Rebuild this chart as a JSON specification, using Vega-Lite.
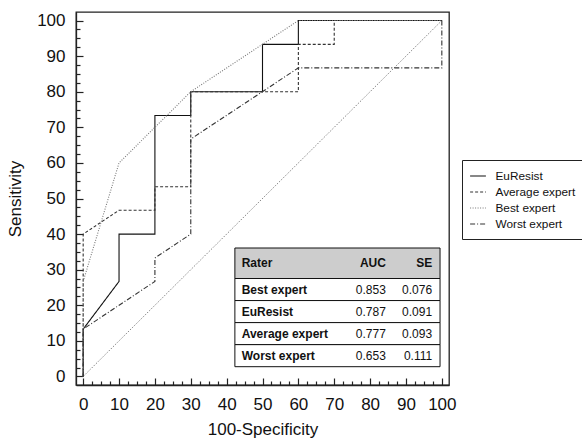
{
  "$schema": "https://vega.github.io/schema/vega-lite/v6.json",
  "width": 373,
  "height": 373,
  "autosize": {"type": "none"},
  "padding": {"left": 76, "top": 12, "right": 133, "bottom": 56},
  "background": "white",
  "config": {
    "font": "Liberation Sans",
    "view": {"stroke": "#222222", "strokeWidth": 1.3},
    "axis": {"grid": false, "domainColor": "#222222", "tickColor": "#222222", "labelColor": "#111111", "titleColor": "#111111", "domainWidth": 1.3, "tickWidth": 1.2, "labelFontWeight": "normal", "titleFontWeight": "normal", "labelOverlap": false, "labelFlush": false, "labelBound": false}
  },
  "datasets": {
    "diag": [{"x": 0, "y": 0}, {"x": 100, "y": 100}],
    "roc": [
      {"rater": "EuResist", "i": 1, "x": 0, "y": 0},
      {"rater": "EuResist", "i": 2, "x": 0, "y": 13.3},
      {"rater": "EuResist", "i": 3, "x": 10, "y": 26.7},
      {"rater": "EuResist", "i": 4, "x": 10, "y": 40},
      {"rater": "EuResist", "i": 5, "x": 20, "y": 40},
      {"rater": "EuResist", "i": 6, "x": 20, "y": 73.3},
      {"rater": "EuResist", "i": 7, "x": 30, "y": 73.3},
      {"rater": "EuResist", "i": 8, "x": 30, "y": 80},
      {"rater": "EuResist", "i": 9, "x": 50, "y": 80},
      {"rater": "EuResist", "i": 10, "x": 50, "y": 93.3},
      {"rater": "EuResist", "i": 11, "x": 60, "y": 93.3},
      {"rater": "EuResist", "i": 12, "x": 60, "y": 100},
      {"rater": "EuResist", "i": 13, "x": 100, "y": 100},
      {"rater": "Average expert", "i": 1, "x": 0, "y": 0},
      {"rater": "Average expert", "i": 2, "x": 0, "y": 40},
      {"rater": "Average expert", "i": 3, "x": 10, "y": 46.7},
      {"rater": "Average expert", "i": 4, "x": 20, "y": 46.7},
      {"rater": "Average expert", "i": 5, "x": 20, "y": 53.3},
      {"rater": "Average expert", "i": 6, "x": 30, "y": 53.3},
      {"rater": "Average expert", "i": 7, "x": 30, "y": 80},
      {"rater": "Average expert", "i": 8, "x": 60, "y": 80},
      {"rater": "Average expert", "i": 9, "x": 60, "y": 93.3},
      {"rater": "Average expert", "i": 10, "x": 70, "y": 93.3},
      {"rater": "Average expert", "i": 11, "x": 70, "y": 100},
      {"rater": "Average expert", "i": 12, "x": 100, "y": 100},
      {"rater": "Best expert", "i": 1, "x": 0, "y": 0},
      {"rater": "Best expert", "i": 2, "x": 0, "y": 26.7},
      {"rater": "Best expert", "i": 3, "x": 10, "y": 60},
      {"rater": "Best expert", "i": 4, "x": 30, "y": 80},
      {"rater": "Best expert", "i": 5, "x": 60, "y": 100},
      {"rater": "Best expert", "i": 6, "x": 100, "y": 100},
      {"rater": "Worst expert", "i": 1, "x": 0, "y": 0},
      {"rater": "Worst expert", "i": 2, "x": 0, "y": 13.3},
      {"rater": "Worst expert", "i": 3, "x": 20, "y": 26.7},
      {"rater": "Worst expert", "i": 4, "x": 20, "y": 33.3},
      {"rater": "Worst expert", "i": 5, "x": 30, "y": 40},
      {"rater": "Worst expert", "i": 6, "x": 30, "y": 66.7},
      {"rater": "Worst expert", "i": 7, "x": 60, "y": 86.7},
      {"rater": "Worst expert", "i": 8, "x": 100, "y": 86.7},
      {"rater": "Worst expert", "i": 9, "x": 100, "y": 100}
    ],
    "header": [{"Rater": "Rater", "AUC": "AUC", "SE": "SE"}],
    "table": [
      {"Rater": "Best expert", "AUC": "0.853", "SE": "0.076"},
      {"Rater": "EuResist", "AUC": "0.787", "SE": "0.091"},
      {"Rater": "Average expert", "AUC": "0.777", "SE": "0.093"},
      {"Rater": "Worst expert", "AUC": "0.653", "SE": "0.111"}
    ]
  },
  "layer": [
    {
      "encoding": {
        "x": {
          "field": "x", "type": "quantitative",
          "scale": {"domain": [-2, 102], "nice": false, "zero": false},
          "axis": {
            "orient": "bottom",
            "title": "100-Specificity",
            "values": [0, 2.5, 5, 7.5, 10, 12.5, 15, 17.5, 20, 22.5, 25, 27.5, 30, 32.5, 35, 37.5, 40, 42.5, 45, 47.5, 50, 52.5, 55, 57.5, 60, 62.5, 65, 67.5, 70, 72.5, 75, 77.5, 80, 82.5, 85, 87.5, 90, 92.5, 95, 97.5, 100],
            "labelExpr": "datum.value % 10 === 0 ? datum.label : ''",
            "tickSize": {"condition": {"test": "datum.value % 10 === 0", "value": -7}, "value": -4},
            "labelPadding": 18,
            "labelFontSize": 17,
            "titleFontSize": 17,
            "titlePadding": 6,
            "labelFlush": false,
            "labelOverlap": false,
            "labelBound": false
          }
        },
        "y": {
          "field": "y", "type": "quantitative",
          "scale": {"domain": [-2.4, 102.4], "nice": false, "zero": false},
          "axis": {
            "orient": "left",
            "title": "Sensitivity",
            "values": [0, 2.5, 5, 7.5, 10, 12.5, 15, 17.5, 20, 22.5, 25, 27.5, 30, 32.5, 35, 37.5, 40, 42.5, 45, 47.5, 50, 52.5, 55, 57.5, 60, 62.5, 65, 67.5, 70, 72.5, 75, 77.5, 80, 82.5, 85, 87.5, 90, 92.5, 95, 97.5, 100],
            "labelExpr": "datum.value % 10 === 0 ? datum.label : ''",
            "tickSize": {"condition": {"test": "datum.value % 10 === 0", "value": -7}, "value": -4},
            "labelPadding": 18,
            "labelFontSize": 17,
            "titleFontSize": 17,
            "titlePadding": 12,
            "labelOverlap": false,
            "labelBound": false
          }
        }
      },
      "layer": [
        {
          "data": {"name": "diag"},
          "mark": {"type": "line", "color": "#888888", "strokeWidth": 1, "strokeDash": [1.5, 1.5]}
        },
        {
          "data": {"name": "roc"},
          "mark": {"type": "line", "strokeWidth": 1.1},
          "encoding": {
            "order": {"field": "i", "type": "quantitative"},
            "color": {
              "field": "rater", "type": "nominal",
              "scale": {"domain": ["EuResist", "Average expert", "Best expert", "Worst expert"], "range": ["#111111", "#333333", "#777777", "#333333"]},
              "legend": {"orient": "none", "legendX": 386, "legendY": 148, "title": null, "strokeColor": "#222222", "fillColor": "white", "padding": 7.5, "symbolType": "stroke", "symbolSize": 250, "symbolStrokeWidth": 1.1, "labelFontSize": 11.8, "labelColor": "#111111", "labelOffset": 9, "rowPadding": 0}
            },
            "strokeDash": {
              "field": "rater", "type": "nominal",
              "scale": {"domain": ["EuResist", "Average expert", "Best expert", "Worst expert"], "range": [[1, 0], [3, 2], [1, 1.5], [5, 2, 1, 2]]},
              "legend": {"orient": "none", "legendX": 386, "legendY": 148, "title": null, "strokeColor": "#222222", "fillColor": "white", "padding": 7.5, "symbolType": "stroke", "symbolSize": 250, "symbolStrokeWidth": 1.1, "labelFontSize": 11.8, "labelColor": "#111111", "labelOffset": 9, "rowPadding": 0}
            }
          }
        }
      ]
    },
    {
      "layer": [
        {
          "data": {"name": "header"},
          "encoding": {
            "y": {"field": "Rater", "type": "nominal", "axis": null, "scale": {"type": "band", "domain": ["Rater"], "range": [236, 266.5], "paddingInner": 0, "paddingOuter": 0}}
          },
          "layer": [
            {"mark": {"type": "rect", "fill": "#cdcdcd", "stroke": "#111111", "strokeWidth": 1}, "encoding": {"x": {"datum": 42.3, "axis": null}, "x2": {"datum": 99.5}}},
            {"mark": {"type": "text", "align": "left", "baseline": "middle", "fontSize": 12, "fontWeight": "bold", "color": "#111111"}, "encoding": {"x": {"datum": 44.2, "axis": null}, "text": {"field": "Rater"}}},
            {"mark": {"type": "text", "align": "right", "baseline": "middle", "fontSize": 12, "fontWeight": "bold", "color": "#111111"}, "encoding": {"x": {"datum": 84.4, "axis": null}, "text": {"field": "AUC"}}},
            {"mark": {"type": "text", "align": "right", "baseline": "middle", "fontSize": 12, "fontWeight": "bold", "color": "#111111"}, "encoding": {"x": {"datum": 97.3, "axis": null}, "text": {"field": "SE"}}}
          ]
        },
        {
          "data": {"name": "table"},
          "encoding": {
            "y": {"field": "Rater", "type": "nominal", "axis": null, "scale": {"type": "band", "domain": ["Best expert", "EuResist", "Average expert", "Worst expert"], "range": [266.5, 354.7], "paddingInner": 0, "paddingOuter": 0}}
          },
          "layer": [
            {"mark": {"type": "rect", "fill": "white", "stroke": "#111111", "strokeWidth": 1}, "encoding": {"x": {"datum": 42.3, "axis": null}, "x2": {"datum": 99.5}}},
            {"mark": {"type": "text", "align": "left", "baseline": "middle", "fontSize": 12, "fontWeight": "bold", "color": "#111111"}, "encoding": {"x": {"datum": 44.2, "axis": null}, "text": {"field": "Rater"}}},
            {"mark": {"type": "text", "align": "right", "baseline": "middle", "fontSize": 12, "color": "#111111"}, "encoding": {"x": {"datum": 84.4, "axis": null}, "text": {"field": "AUC"}}},
            {"mark": {"type": "text", "align": "right", "baseline": "middle", "fontSize": 12, "color": "#111111"}, "encoding": {"x": {"datum": 97.3, "axis": null}, "text": {"field": "SE"}}}
          ]
        }
      ],
      "resolve": {"scale": {"y": "independent"}}
    }
  ],
  "resolve": {"scale": {"y": "independent"}, "axis": {"x": "independent", "y": "independent"}}
}
